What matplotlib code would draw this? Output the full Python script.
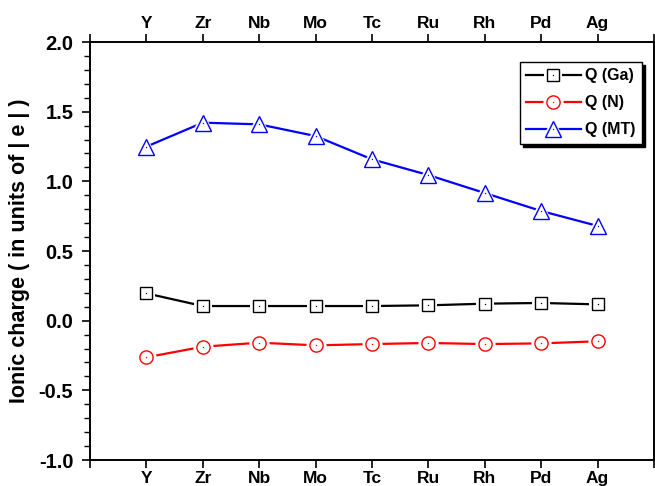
import numpy as np
import matplotlib
matplotlib.use('Agg')
import matplotlib.pyplot as plt
from matplotlib.ticker import MultipleLocator

plt.rcParams['font.family'] = ['Liberation Sans', 'DejaVu Sans']
plt.rcParams['font.weight'] = 'bold'

elements = ['Y', 'Zr', 'Nb', 'Mo', 'Tc', 'Ru', 'Rh', 'Pd', 'Ag']
q_ga = [0.196, 0.105, 0.105, 0.105, 0.105, 0.110, 0.122, 0.127, 0.117]
q_n = [-0.263, -0.187, -0.158, -0.177, -0.168, -0.160, -0.168, -0.163, -0.148]
q_mt = [1.249, 1.421, 1.409, 1.325, 1.158, 1.045, 0.916, 0.787, 0.680]

x = np.arange(1, len(elements) + 1)

fig = plt.figure(figsize=(6.55, 4.86), dpi=100)
ax = fig.add_axes([90/655, 1-460/486, 564/655, 418/486])

def series(y, color, marker, ms, label):
    ln, = ax.plot(x, y, '-', color=color, lw=1.6, zorder=2)
    mask, = ax.plot(x, y, ls='none', marker=marker, ms=ms+5, mfc='white',
                    mec='white', mew=0, zorder=3)
    mk, = ax.plot(x, y, ls='none', marker=marker, ms=ms, mfc='white',
                  mec=color, mew=1.0, zorder=4)
    dot, = ax.plot(x, y, ls='none', marker='o', ms=1.0, mfc=color,
                   mec=color, mew=0, zorder=5)
    return (ln, mask, mk, dot), label

h1 = series(q_ga, 'black', 's', 8.5, 'Q (Ga)')
h2 = series(q_n, 'red', 'o', 9.5, 'Q (N)')
h3 = series(q_mt, 'blue', '^', 12, 'Q (MT)')

ax.set_xlim(0, 10)
ax.set_ylim(-1.0, 2.0)
ax.set_xticks(range(0, 11))
ax.set_xticklabels([''] + elements + [''])
ax.yaxis.set_major_locator(MultipleLocator(0.5))
ax.yaxis.set_minor_locator(MultipleLocator(0.1))
ax.yaxis.set_major_formatter(matplotlib.ticker.FormatStrFormatter('%.1f'))

ax.tick_params(axis='x', which='both', top=True, bottom=True,
               labeltop=True, labelbottom=True, direction='out',
               length=6, width=1.2, labelsize=12.5, pad=2)
ax.tick_params(axis='y', which='major', right=False, direction='out',
               length=6, width=1.2, labelsize=14.5, pad=6)
ax.tick_params(axis='y', which='minor', right=False, direction='out',
               length=4, width=1.0)
for s in ax.spines.values():
    s.set_linewidth(1.4)

ax.set_ylabel('Ionic charge ( in units of | e | )', fontsize=15.5,
              fontweight='bold', labelpad=6)

leg = ax.legend([h1[0], h2[0], h3[0]], [h1[1], h2[1], h3[1]],
                loc='upper right', bbox_to_anchor=(0.979, 0.952),
                borderaxespad=0, fontsize=11.5, handlelength=3.4,
                handletextpad=0.3, fancybox=False, framealpha=1,
                edgecolor='black', labelspacing=0.75,
                shadow={'color': 'black', 'alpha': 1})
leg.get_frame().set_linewidth(1.0)

fig.savefig('out.png', dpi=100)
